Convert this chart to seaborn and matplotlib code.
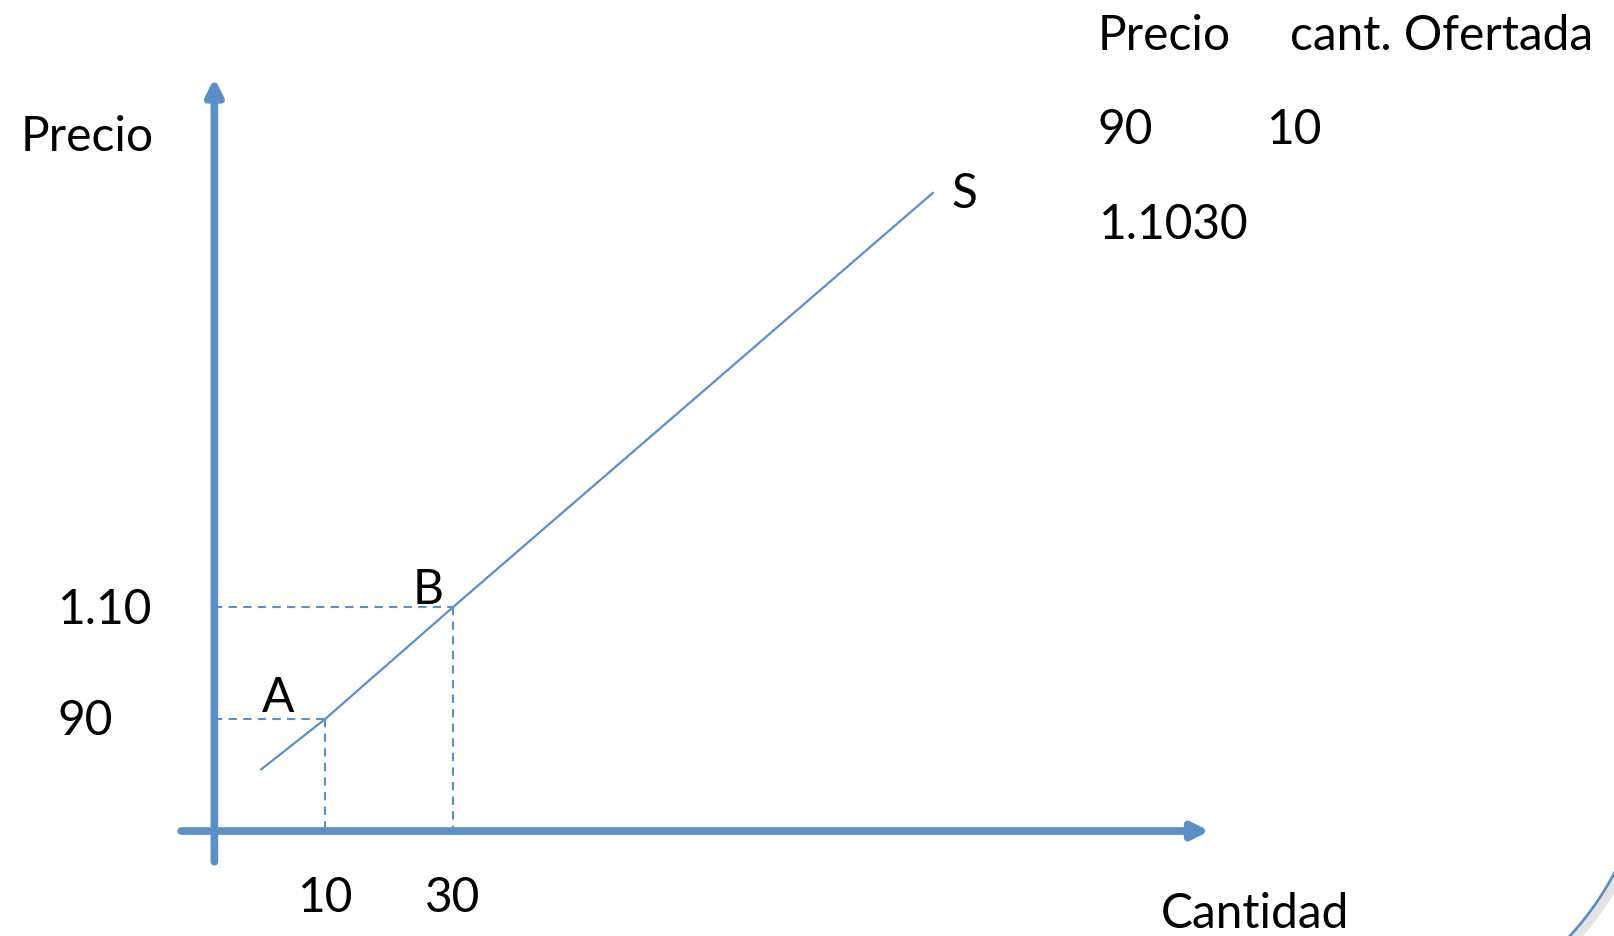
import matplotlib
matplotlib.use("Agg")
import matplotlib.pyplot as plt
from matplotlib.patches import Arc
import pandas as pd
import seaborn as sns

# supply curve S (cantidad, precio)
cantidad_s = [0, 10, 30, 105]
precio_s = [81, 90, 110, 184]

# points A and B
puntos = ["A", "B"]
cant_pts = [10, 30]
precio_pts = [90, 110]
precio_labels = ["90", "1.10"]
cant_labels = ["10", "30"]

# table in the top right corner
tabla_header = ["Precio", "cant. Ofertada"]
tabla_fila1 = ["90", "10"]
tabla_fila2 = ["1.1030"]

BLUE = "#5b8fc9"
W, H = 1614, 937

sns.set_theme(style="white")
plt.rcParams["font.family"] = ["Lato", "DejaVu Sans"]
plt.rcParams["text.color"] = "black"

fig = plt.figure(figsize=(W / 100, H / 100), dpi=100)
ax = fig.add_axes([0, 0, 1, 1])
ax.set_xlim(-40.8, 211.4)
ax.set_ylim(51.25, 218.6)
ax.axis("off")


def fx(x):
    return x / W


def fy(y):
    return 1 - (y + 3) / H


fs = 34.5

# axes with arrows
x_axis_q = -7.3
y_axis_p = 70
ax.annotate("", xy=(x_axis_q, 204.5), xytext=(x_axis_q, 64.5),
            arrowprops=dict(arrowstyle="-|>,head_length=0.8,head_width=0.4",
                            color=BLUE, lw=5.5, shrinkA=0, shrinkB=0))
ax.annotate("", xy=(148.2, y_axis_p), xytext=(-12.5, y_axis_p),
            arrowprops=dict(arrowstyle="-|>,head_length=0.8,head_width=0.4",
                            color=BLUE, lw=5.5, shrinkA=0, shrinkB=0))

# supply line
df = pd.DataFrame({"cantidad": cantidad_s, "precio": precio_s})
sns.lineplot(data=df, x="cantidad", y="precio", ax=ax, color=BLUE, lw=1.6,
             legend=False)

# dashed guides
for q, p in zip(cant_pts, precio_pts):
    ax.plot([x_axis_q, q], [p, p], ls=(0, (4, 3)), color=BLUE, lw=1.5)
    ax.plot([q, q], [p, y_axis_p], ls=(0, (4, 3)), color=BLUE, lw=1.5)

# labels on the chart
fig.text(fx(21), fy(134), "Precio", fontsize=fs, va="center", ha="left")
for lab, y in zip(precio_labels, [718, 607]):
    fig.text(fx(57), fy(y), lab, fontsize=fs, va="center", ha="left")
for lab, x in zip(cant_labels, [325, 453]):
    fig.text(fx(x), fy(895), lab, fontsize=fs, va="center", ha="center")
fig.text(fx(1161), fy(911), "Cantidad", fontsize=fs, va="center", ha="left")
for lab, x, y in zip(puntos, [278, 428], [695, 587]):
    fig.text(fx(x), fy(y), lab, fontsize=fs, va="center", ha="center")
fig.text(fx(964), fy(191), "S", fontsize=fs, va="center", ha="center")

# table
fig.text(fx(1098), fy(33), tabla_header[0], fontsize=fs, va="center", ha="left")
fig.text(fx(1290), fy(33), tabla_header[1], fontsize=fs, va="center", ha="left")
fig.text(fx(1098), fy(127), tabla_fila1[0], fontsize=fs, va="center", ha="left")
fig.text(fx(1266), fy(127), tabla_fila1[1], fontsize=fs, va="center", ha="left")
fig.text(fx(1098), fy(222), tabla_fila2[0], fontsize=fs, va="center", ha="left")

# rounded slide border in the corner
for off, col, lw in [(4, "#e3e3e3", 6), (0, BLUE, 2)]:
    arc = Arc((1349 + off, H - 734 - off), 600, 600, angle=0,
              theta1=-60, theta2=-25, color=col, lw=lw,
              transform=None)
    fig.patches.append(arc)

fig.savefig("out.png", dpi=100)
